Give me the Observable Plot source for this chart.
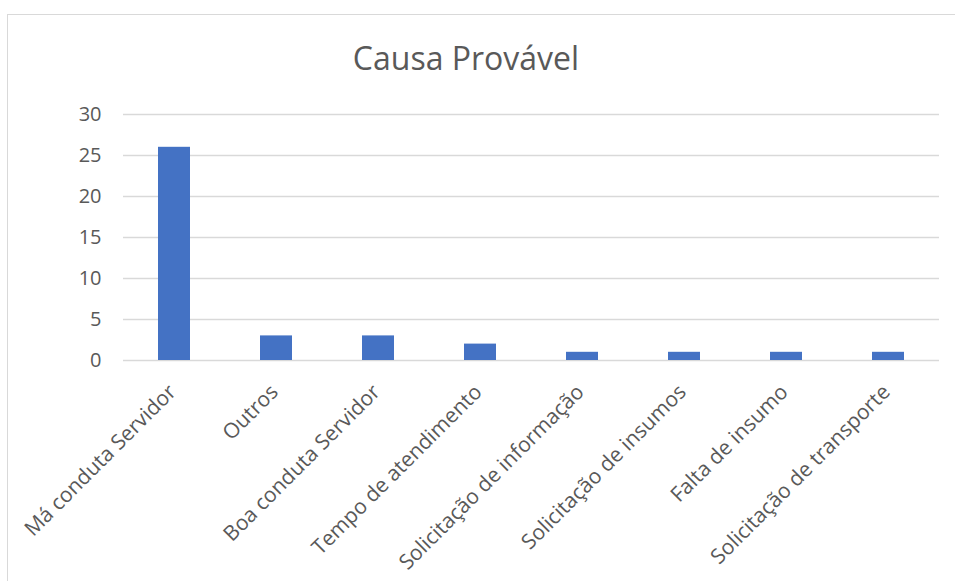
<!DOCTYPE html>
<html>
<head>
<meta charset="utf-8">
<script src="https://cdn.jsdelivr.net/npm/d3@7"></script>
<script src="https://cdn.jsdelivr.net/npm/@observablehq/plot@0.6"></script>
<style>
  html, body { margin: 0; padding: 0; background: #fff; overflow: hidden; }
  #wrap { position: relative; width: 955px; height: 581px; }
  #border { position: absolute; left: 7px; top: 14px; width: 1000px; height: 700px; border: 1.5px solid #d9d9d9; box-sizing: border-box; }
  #title { position: absolute; left: 0; top: 36px; width: 932px; text-align: center; font-family: "Open Sans", sans-serif; font-size: 32px; line-height: 1.362; color: #595959; }
  #chart { position: absolute; left: 0; top: 0; }
</style>
</head>
<body>
<div id="wrap">
  <div id="border"></div>
  <div id="chart"></div>
  <div id="title">Causa Provável</div>
</div>
<script>
const categories = ["Má conduta Servidor", "Outros", "Boa conduta Servidor", "Tempo de atendimento", "Solicitação de informação", "Solicitação de insumos", "Falta de insumo", "Solicitação de transporte"];
const values = [26, 3, 3, 2, 1, 1, 1, 1];
const yTicks = [0, 5, 10, 15, 20, 25, 30];

const data = categories.map((c, i) => ({category: c, value: values[i]}));

const chart = Plot.plot({
  width: 955,
  height: 581,
  marginLeft: 123,
  marginRight: 16,
  marginTop: 114,
  marginBottom: 221,
  style: {fontFamily: "'Open Sans', sans-serif", fontSize: "20px", color: "#595959", background: "transparent"},
  x: {domain: categories, paddingInner: 0.686, paddingOuter: 0.343, label: null},
  y: {domain: [0, 30], label: null},
  marks: [
    Plot.ruleY(yTicks, {stroke: "#d9d9d9", strokeWidth: 1.5}),
    Plot.barY(data, {x: "category", y: "value", fill: "#4472C4"}),
    Plot.axisY({ticks: yTicks, tickSize: 0, tickPadding: 22, label: null, fill: "#595959", fontSize: 20}),
    Plot.axisX({tickSize: 0, tickRotate: -45, tickPadding: 28, dx: -2, label: null, fill: "#595959", fontSize: 21})
  ]
});
document.getElementById("chart").appendChild(chart);
</script>
</body>
</html>
